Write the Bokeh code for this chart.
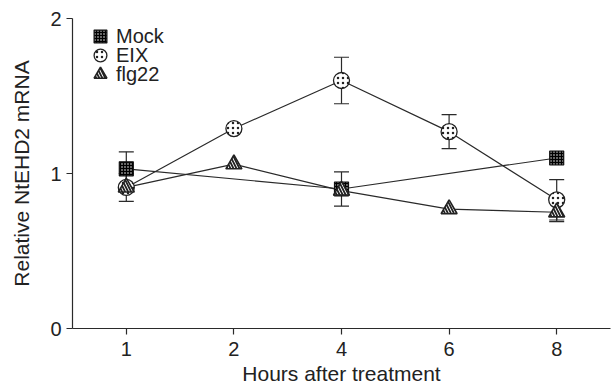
from bokeh.plotting import figure
from bokeh.models import (ColumnDataSource, FactorRange, Range1d, Whisker, TeeHead,
                          Legend, LegendItem, FixedTicker)
from bokeh.embed import file_html
from bokeh.resources import INLINE

# ---- data ----
hours = ["1", "2", "4", "6", "8"]

mock_hours = ["1", "4", "8"]
mock_vals = [1.03, 0.90, 1.10]
mock_err = [0.11, 0.11, 0.0]

eix_vals = [0.91, 1.29, 1.60, 1.27, 0.83]
eix_err = [0.09, 0.0, 0.15, 0.11, 0.13]

flg_vals = [0.91, 1.06, 0.89, 0.77, 0.75]
flg_err = [0.0, 0.0, 0.0, 0.0, 0.06]

y_ticks = [0, 1, 2]
series_labels = ["Mock", "EIX", "flg22"]

FONT = "Liberation Sans"
TXT = "#222222"
LINE = "#2a2a2a"

p = figure(width=612, height=390, x_range=FactorRange(factors=hours, range_padding=0),
           y_range=Range1d(0, 2), output_backend="svg", toolbar_location=None,
           min_border_left=72, min_border_right=2, min_border_top=18, min_border_bottom=62)
p.grid.visible = False
p.outline_line_color = None
p.background_fill_color = "white"
p.border_fill_color = "white"

for ax in (p.xaxis[0], p.yaxis[0]):
    ax.axis_line_color = LINE
    ax.axis_line_width = 1.2
    ax.major_tick_line_color = LINE
    ax.major_tick_line_width = 1.2
    ax.major_tick_out = 6
    ax.major_tick_in = 0
    ax.minor_tick_line_color = None
    ax.major_label_text_font = FONT
    ax.major_label_text_font_size = "20px"
    ax.major_label_text_color = TXT
    ax.axis_label_text_font = FONT
    ax.axis_label_text_font_size = "21px"
    ax.axis_label_text_font_style = "normal"
    ax.axis_label_text_color = TXT

p.xaxis.axis_label = "Hours after treatment"
p.xaxis.major_label_standoff = 7
p.xaxis.axis_label_standoff = 3
p.yaxis.axis_label = "Relative NtEHD2 mRNA"
p.yaxis.ticker = FixedTicker(ticks=y_ticks)
p.yaxis.major_label_standoff = 5
p.yaxis.axis_label_standoff = 14

# lines
p.line(mock_hours, mock_vals, line_color=LINE, line_width=1.2)
p.line(hours, eix_vals, line_color=LINE, line_width=1.2)
p.line(hours, flg_vals, line_color=LINE, line_width=1.2)

# error bars
def add_err(xs, vals, errs):
    pts = [(x, v, e) for x, v, e in zip(xs, vals, errs) if e > 0]
    src = ColumnDataSource(dict(x=[a for a, _, _ in pts],
                                lo=[v - e for _, v, e in pts],
                                hi=[v + e for _, v, e in pts]))
    w = Whisker(source=src, base="x", lower="lo", upper="hi", dimension="height",
                line_color=LINE, line_width=1.2,
                upper_head=TeeHead(size=15, line_color=LINE, line_width=1.2),
                lower_head=TeeHead(size=15, line_color=LINE, line_width=1.2))
    p.add_layout(w)

add_err(mock_hours, mock_vals, mock_err)
add_err(hours, eix_vals, eix_err)
add_err(hours, flg_vals, flg_err)

# markers
r_mock = p.scatter(mock_hours, mock_vals, marker="square", size=14, fill_color="black",
                   line_color="#111111", line_width=1.2, hatch_pattern="dot",
                   hatch_color="white", hatch_scale=3, hatch_weight=1.6)
r_eix = p.scatter(hours, eix_vals, marker="circle", size=16, fill_color="white",
                  line_color="#222222", line_width=1.3, hatch_pattern="dot",
                  hatch_color="#222222", hatch_scale=5, hatch_weight=1.6)
r_flg = p.scatter(hours, flg_vals, marker="triangle", size=16, fill_color="white",
                  line_color="#222222", line_width=1.6, hatch_pattern="left_diagonal_line",
                  hatch_color="#222222", hatch_scale=6, hatch_weight=1.8)

# one legend per row, stacked with a 19px pitch
legend_y = [276, 257, 238]
for lab, r, ly in zip(series_labels, [r_mock, r_eix, r_flg], legend_y):
    lg = Legend(items=[LegendItem(label=lab, renderers=[r])],
                location=(12, ly), padding=0, margin=0, spacing=0,
                glyph_width=32, glyph_height=32, label_standoff=0,
                label_text_font=FONT, label_text_font_size="20px", label_text_color=TXT,
                border_line_color=None, background_fill_alpha=0)
    p.add_layout(lg)

open("out.html", "w").write(file_html(p, INLINE))
